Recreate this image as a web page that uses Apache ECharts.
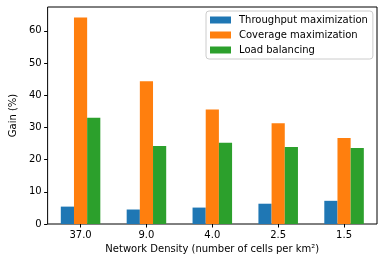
<!DOCTYPE html>
<html><head><meta charset="utf-8">
<script src="https://cdn.jsdelivr.net/npm/echarts@6/dist/echarts.min.js"></script>
<style>html,body{margin:0;padding:0;background:#fff}#c{width:382px;height:262px}</style>
</head><body><div id="c"></div>
<script>
const categories = ['37.0', '9.0', '4.0', '2.5', '1.5'];
const throughput = [5.4, 4.5, 5.1, 6.3, 7.2];
const coverage = [64.1, 44.3, 35.6, 31.3, 26.7];
const loadBalancing = [33.0, 24.2, 25.2, 23.9, 23.6];
const yTicks = [0, 10, 20, 30, 40, 50, 60];
const seriesNames = ['Throughput maximization', 'Coverage maximization', 'Load balancing'];
const colors = ['#1f77b4', '#ff7f0e', '#2ca02c'];

const font = 'DejaVu Sans';
const fs = 10;
const chart = echarts.init(document.getElementById('c'), null, {renderer: 'canvas'});
chart.setOption({
  animation: false,
  color: colors,
  textStyle: {fontFamily: font},
  grid: {left: 41, right: 5, top: 7, bottom: 38, show: true, borderColor: '#000', borderWidth: 1, backgroundColor: 'transparent'},
  legend: {
    orient: 'vertical', left: 206, top: 11,
    padding: [3, 5, 3, 4],
    itemWidth: 21, itemHeight: 7, itemGap: 3,
    icon: 'rect',
    borderColor: '#cccccc', borderWidth: 1, borderRadius: 3,
    backgroundColor: 'rgba(255,255,255,0.8)',
    textStyle: {fontFamily: font, fontSize: fs, color: '#000', lineHeight: 12, padding: [0, 0, 0, 3]},
    data: seriesNames
  },
  xAxis: {
    type: 'category', data: categories,
    name: 'Network Density (number of cells per km²)',
    nameLocation: 'middle', nameGap: 18,
    nameTextStyle: {fontFamily: font, fontSize: fs, color: '#000', verticalAlign: 'top'},
    axisLine: {show: false},
    axisTick: {show: true, alignWithLabel: true, length: 3.5, lineStyle: {color: '#000'}},
    axisLabel: {fontFamily: font, fontSize: fs, color: '#000', margin: 6},
    splitLine: {show: false}
  },
  yAxis: {
    type: 'value', min: 0, max: 67.4, interval: 10,
    name: 'Gain (%)', nameLocation: 'middle', nameGap: 24,
    nameTextStyle: {fontFamily: font, fontSize: fs, color: '#000'},
    axisLine: {show: false},
    axisTick: {show: true, length: 3.5, lineStyle: {color: '#000'}, customValues: yTicks},
    axisLabel: {fontFamily: font, fontSize: fs, color: '#000', margin: 6, customValues: yTicks},
    splitLine: {show: false}
  },
  series: [
    {name: seriesNames[0], type: 'bar', data: throughput, barGap: '0%', barCategoryGap: '40%'},
    {name: seriesNames[1], type: 'bar', data: coverage, barGap: '0%', barCategoryGap: '40%'},
    {name: seriesNames[2], type: 'bar', data: loadBalancing, barGap: '0%', barCategoryGap: '40%'}
  ]
});
</script></body></html>
